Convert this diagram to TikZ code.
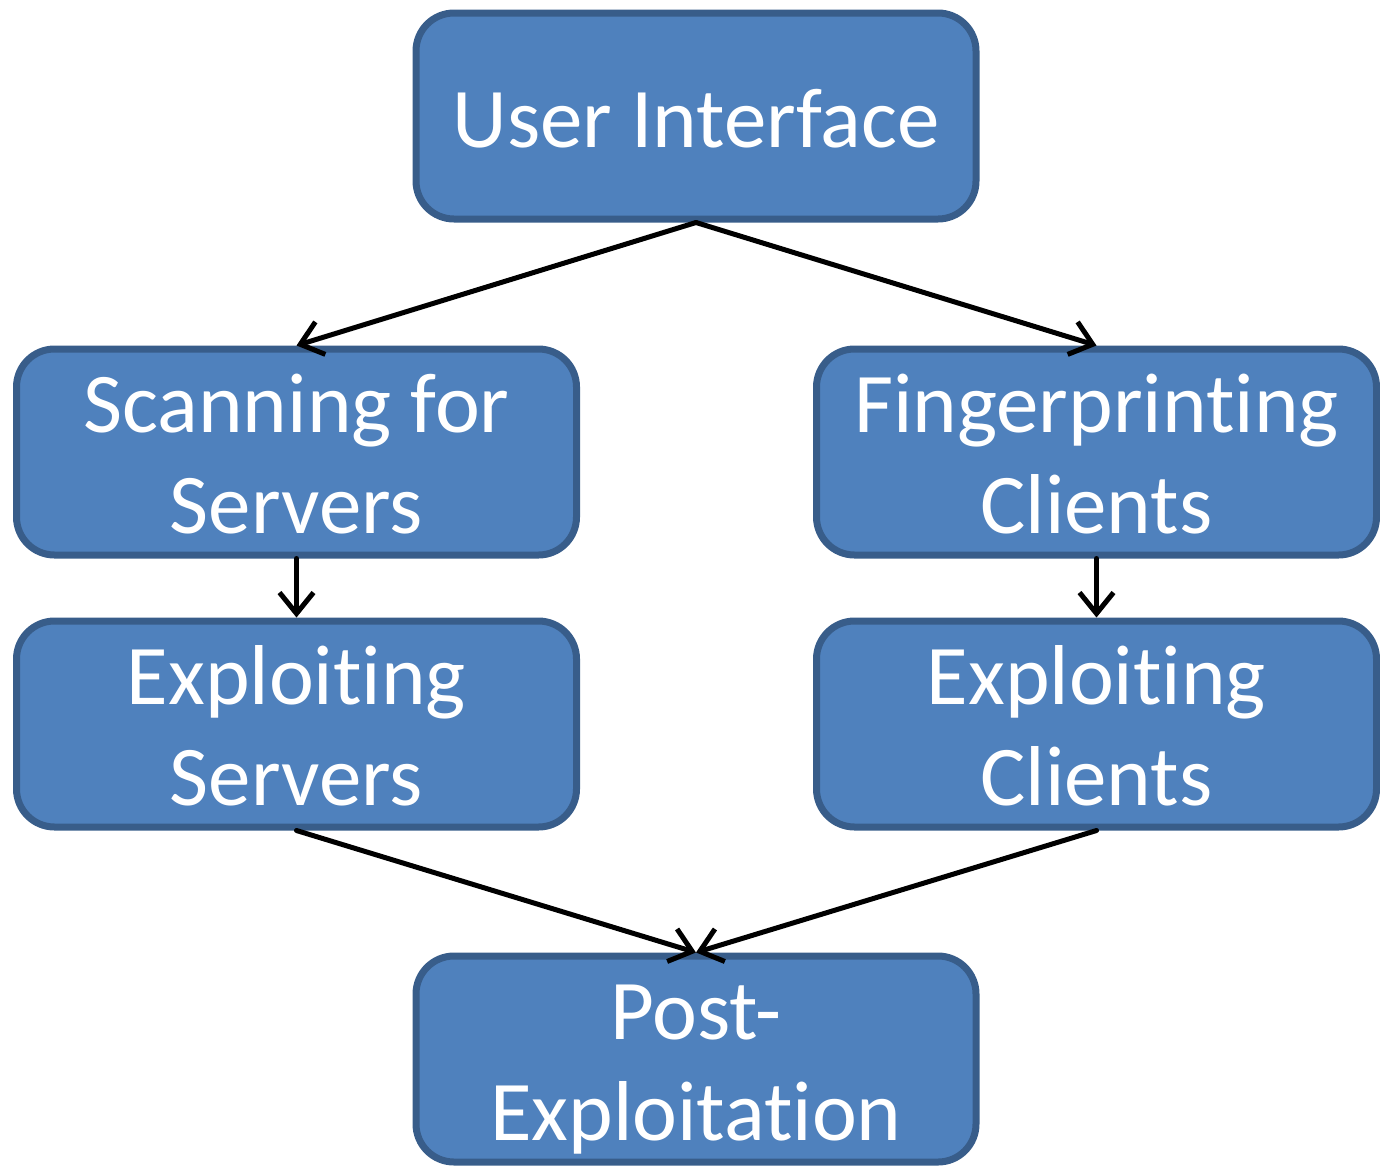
\documentclass[tikz,border=0pt]{standalone}
\usepackage{fontspec}
\setmainfont{Carlito}[Ligatures=NoCommon]
\usetikzlibrary{arrows.meta}
\definecolor{boxfill}{HTML}{4F81BD}
\definecolor{boxline}{HTML}{385D8A}
\tikzset{
  stagebox/.style={draw=boxline, fill=boxfill, line width=7pt,
    rounded corners=38pt, minimum width=560pt, minimum height=206pt,
    inner sep=0pt, align=center, text=white,
    font=\fontsize{85}{101}\selectfont},
  oneline/.style={text height=62pt, text depth=0pt},
  twoline/.style={text height=162pt, text depth=0pt},
  flow/.style={line width=5pt, line cap=round,
    -{Straight Barb[length=21pt,width=34pt,line width=5pt]}}
}
\begin{document}
\begin{tikzpicture}[x=1pt,y=-1pt]
  \useasboundingbox (0,0) rectangle (1380,1165);
  \node[stagebox,oneline] (ui)   at (696,116)    {User Interface};
  \node[stagebox,twoline] (scan) at (296.5,452)  {Scanning for\\Servers};
  \node[stagebox,twoline] (fp)   at (1096.5,452) {Fingerprinting\\Clients};
  \node[stagebox,twoline] (exs)  at (296.5,724)  {Exploiting\\Servers};
  \node[stagebox,twoline] (exc)  at (1096.5,724) {Exploiting\\Clients};
  \node[stagebox,twoline] (post) at (696,1059)   {Post-\\Exploitation};
  \draw[flow] (ui.south) -- (scan.north);
  \draw[flow] (ui.south) -- (fp.north);
  \draw[flow] (scan.south) -- (exs.north);
  \draw[flow] (fp.south) -- (exc.north);
  \draw[flow] (exs.south) -- (post.north);
  \draw[flow] (exc.south) -- (post.north);
\end{tikzpicture}
\end{document}
